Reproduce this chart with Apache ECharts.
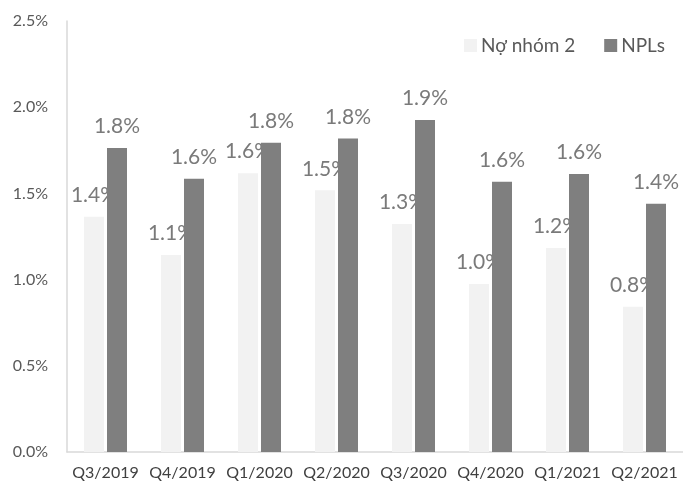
<!DOCTYPE html>
<html>
<head>
<meta charset="utf-8">
<script src="https://cdn.jsdelivr.net/npm/echarts@6/dist/echarts.min.js"></script>
<style>html,body{margin:0;padding:0;background:#fff}#c{width:683px;height:484px}</style>
</head>
<body>
<div id="c"></div>
<script>
const categories = ['Q3/2019','Q4/2019','Q1/2020','Q2/2020','Q3/2020','Q4/2020','Q1/2021','Q2/2021'];
const group2 = [1.365, 1.143, 1.617, 1.518, 1.323, 0.974, 1.183, 0.843];
const npls = [1.763, 1.585, 1.794, 1.819, 1.926, 1.568, 1.613, 1.44];
const seriesNames = ['Nợ nhóm 2', 'NPLs'];
const yTicks = { min: 0, max: 2.5, interval: 0.5 };

const FONT = 'Lato';
const chart = echarts.init(document.getElementById('c'), null, { renderer: 'canvas' });
const pct = v => Number(v).toFixed(1) + '%';
chart.setOption({
  animation: false,
  backgroundColor: '#fff',
  textStyle: { fontFamily: FONT },
  grid: { left: 67, right: -7, top: 21, bottom: 32 },
  legend: {
    left: 459, top: 31,
    itemWidth: 13, itemHeight: 13, itemGap: 29,
    icon: 'rect',
    textStyle: { fontFamily: FONT, fontSize: 19, color: '#595959', padding: [0,0,0,-1] },
    data: seriesNames
  },
  xAxis: {
    type: 'category',
    data: categories,
    axisLine: { lineStyle: { color: '#d9d9d9', width: 1.5 } },
    axisTick: { show: false },
    axisLabel: { interval: 0, hideOverlap: false, fontFamily: FONT, fontSize: 16, color: '#404040', margin: 13 }
  },
  yAxis: {
    type: 'value',
    min: yTicks.min, max: yTicks.max, interval: yTicks.interval,
    axisLine: { show: true, lineStyle: { color: '#d9d9d9', width: 1.5 } },
    axisTick: { show: false },
    splitLine: { show: false },
    axisLabel: { fontFamily: FONT, fontSize: 16, color: '#595959', margin: 19, formatter: pct }
  },
  series: [
    {
      name: seriesNames[0], type: 'bar', data: group2,
      barWidth: 20, barGap: '15%',
      itemStyle: { color: '#f2f2f2' },
      z: 2,
      label: { show: true, position: 'top', distance: 11, fontFamily: FONT, fontSize: 21, color: '#7a7a7a', formatter: p => pct(p.value) }
    },
    {
      name: seriesNames[1], type: 'bar', data: npls,
      barWidth: 20, barGap: '15%',
      itemStyle: { color: '#7f7f7f' },
      z: 3,
      label: { show: true, position: 'top', distance: 11, fontFamily: FONT, fontSize: 21, color: '#7a7a7a', formatter: p => pct(p.value) }
    }
  ]
});
</script>
</body>
</html>
